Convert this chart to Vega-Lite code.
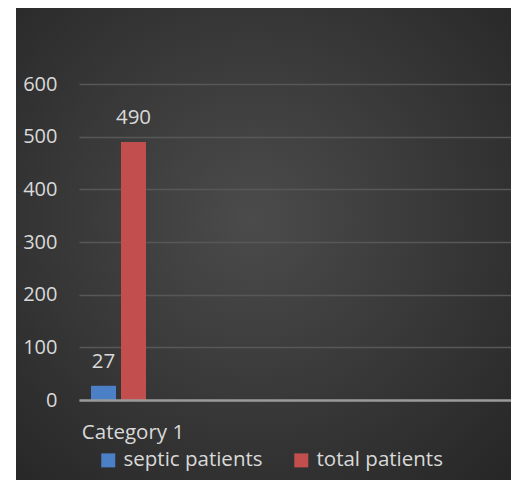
{
  "$schema": "https://vega.github.io/schema/vega-lite/v6.json",
  "autosize": "none",
  "width": 495,
  "height": 472,
  "padding": {"left": 16, "top": 8, "right": 0, "bottom": 12},
  "background": "white",
  "view": {
    "stroke": null,
    "fill": {
      "gradient": "radial",
      "x1": 0.48, "y1": 0.45, "r1": 0,
      "x2": 0.48, "y2": 0.45, "r2": 0.72,
      "stops": [
        {"offset": 0, "color": "#4b4b4b"},
        {"offset": 1, "color": "#272727"}
      ]
    }
  },
  "config": {
    "font": "Open Sans",
    "axis": {"labelFont": "Open Sans"},
    "legend": {"labelFont": "Open Sans"}
  },
  "data": {
    "values": [
      {"category": "Category 1", "series": "septic patients", "value": 27},
      {"category": "Category 1", "series": "total patients", "value": 490}
    ]
  },
  "encoding": {
    "x": {
      "field": "category",
      "type": "nominal",
      "scale": {"range": [63, 495], "paddingInner": 0.5524, "paddingOuter": 1, "align": 0},
      "axis": {
        "title": null,
        "offset": -80,
        "domainColor": "#9a9a9a",
        "domainWidth": 2.5,
        "ticks": false,
        "tickSize": 0,
        "grid": false,
        "labelAngle": 0,
        "labelPadding": 38,
        "labelBaseline": "alphabetic",
        "labelOffset": 14.5,
        "labelFontSize": 20.5,
        "labelColor": "#d9d9d9",
        "zindex": 1
      }
    },
    "xOffset": {
      "field": "series",
      "type": "nominal",
      "scale": {"domain": ["septic patients", "total patients"], "paddingInner": 0.1667, "paddingOuter": 0.4}
    },
    "y": {
      "field": "value",
      "type": "quantitative",
      "scale": {"domain": [0, 600], "range": [392, 76], "nice": false},
      "axis": {
        "title": null,
        "values": [0, 100, 200, 300, 400, 500, 600],
        "offset": -41,
        "domain": false,
        "ticks": false,
        "tickSize": 0,
        "labelPadding": 0,
        "labelFontSize": 20,
        "labelColor": "#d9d9d9",
        "gridColor": "#575757",
        "gridWidth": 1.3
      }
    }
  },
  "layer": [
    {
      "mark": {"type": "bar"},
      "encoding": {
        "color": {
          "field": "series",
          "type": "nominal",
          "scale": {"domain": ["septic patients", "total patients"], "range": ["#4b7fc6", "#c24f4d"]},
          "legend": {
            "title": null,
            "orient": "none",
            "legendX": 82,
            "legendY": 442,
            "direction": "horizontal",
            "symbolType": "square",
            "symbolSize": 196,
            "symbolStrokeWidth": 0,
            "symbolOffset": 0,
            "labelFontSize": 20.5,
            "labelColor": "#d9d9d9",
            "labelOffset": 5,
            "columnPadding": 28,
            "padding": 0
          }
        }
      }
    },
    {
      "mark": {"type": "text", "baseline": "alphabetic", "dy": -18, "fontSize": 20.5, "color": "#d9d9d9", "font": "Open Sans"},
      "encoding": {
        "text": {"field": "value", "type": "quantitative"}
      }
    }
  ]
}
